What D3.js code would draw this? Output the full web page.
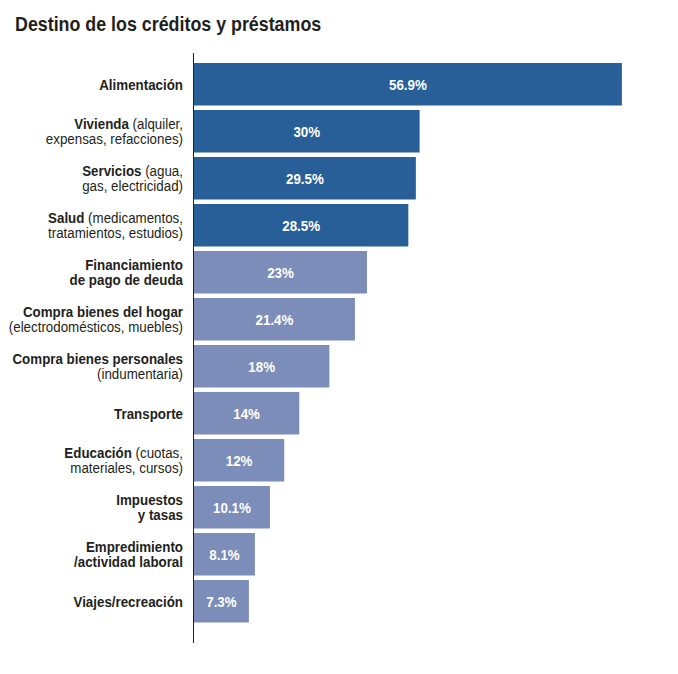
<!DOCTYPE html>
<html>
<head>
<meta charset="utf-8">
<script src="https://cdn.jsdelivr.net/npm/d3@7"></script>
<style>
  html, body { margin: 0; padding: 0; background: #fff; }
  svg text { font-family: "Liberation Sans", Arial, sans-serif; }
</style>
</head>
<body>
<svg id="chart" width="678" height="674"></svg>
<script>
const title = "Destino de los créditos y préstamos";
const categories = ["Alimentación","Vivienda","Servicios","Salud","Financiamiento de pago de deuda","Compra bienes del hogar","Compra bienes personales","Transporte","Educación","Impuestos y tasas","Empredimiento /actividad laboral","Viajes/recreación"];
const values = [56.9, 30, 29.5, 28.5, 23, 21.4, 18, 14, 12, 10.1, 8.1, 7.3];
const valueLabels = ["56.9%","30%","29.5%","28.5%","23%","21.4%","18%","14%","12%","10.1%","8.1%","7.3%"];
const highlighted = [true, true, true, true, false, false, false, false, false, false, false, false];
// label lines: each line is a list of [text, isBold]
const labelLines = [
  [[["Alimentación", true]]],
  [[["Vivienda", true], [" (alquiler,", false]], [["expensas, refacciones)", false]]],
  [[["Servicios", true], [" (agua,", false]], [["gas, electricidad)", false]]],
  [[["Salud", true], [" (medicamentos,", false]], [["tratamientos, estudios)", false]]],
  [[["Financiamiento", true]], [["de pago de deuda", true]]],
  [[["Compra bienes del hogar", true]], [["(electrodomésticos, muebles)", false]]],
  [[["Compra bienes personales", true]], [["(indumentaria)", false]]],
  [[["Transporte", true]]],
  [[["Educación", true], [" (cuotas,", false]], [["materiales, cursos)", false]]],
  [[["Impuestos", true]], [["y tasas", true]]],
  [[["Empredimiento", true]], [["/actividad laboral", true]]],
  [[["Viajes/recreación", true]]]
];

const colorDark = "#285f98";
const colorLight = "#7b8db8";
const ink = "#231f20";

const svg = d3.select("#chart");

// condensed look via horizontal scaling around the anchor point
function condensed(parent, ax, ay, s) {
  return parent.append("g").attr("transform", `translate(${ax},${ay}) scale(${s},1)`);
}

condensed(svg, 15, 31, 0.85).append("text")
  .attr("x", 0).attr("y", 0)
  .attr("font-size", 21).attr("font-weight", "bold")
  .attr("fill", ink)
  .text(title);

const y = d3.scaleBand().domain(categories).range([58.5, 627]).paddingInner(0.0957).paddingOuter(0.0957);
const x = d3.scaleLinear().domain([0, 60]).range([194, 645.2]);

const data = categories.map((c, i) => ({c, v: values[i], lab: valueLabels[i], hl: highlighted[i], lines: labelLines[i]}));

svg.selectAll("rect.bar").data(data).enter().append("rect")
  .attr("class", "bar")
  .attr("x", x(0))
  .attr("y", d => y(d.c))
  .attr("width", d => x(d.v) - x(0))
  .attr("height", y.bandwidth())
  .attr("fill", d => d.hl ? colorDark : colorLight);

data.forEach(d => {
  condensed(svg, (x(0) + x(d.v)) / 2, y(d.c) + y.bandwidth() / 2, 0.89)
    .append("text")
    .attr("x", 0).attr("y", 0)
    .attr("dy", "0.36em")
    .attr("text-anchor", "middle")
    .attr("font-size", 15).attr("font-weight", "bold")
    .attr("fill", "#fff")
    .text(d.lab);
});

const lineH = 15.5;
const labelX = 183;
data.forEach(d => {
  const n = d.lines.length;
  const cy = y(d.c) + y.bandwidth() / 2;
  const t = condensed(svg, labelX, cy, 0.89).append("text")
    .attr("text-anchor", "end")
    .attr("font-size", 15)
    .attr("fill", ink);
  d.lines.forEach((line, li) => {
    const base = (li - (n - 1) / 2) * lineH;
    line.forEach((seg, si) => {
      const ts = t.append("tspan")
        .attr("font-weight", seg[1] ? "bold" : "normal")
        .text(seg[0]);
      if (si === 0) ts.attr("x", 0).attr("y", base).attr("dy", "0.36em");
    });
  });
});

svg.append("line")
  .attr("x1", 193.5).attr("x2", 193.5)
  .attr("y1", 53).attr("y2", 643)
  .attr("stroke", ink).attr("stroke-width", 1);
</script>
</body>
</html>
